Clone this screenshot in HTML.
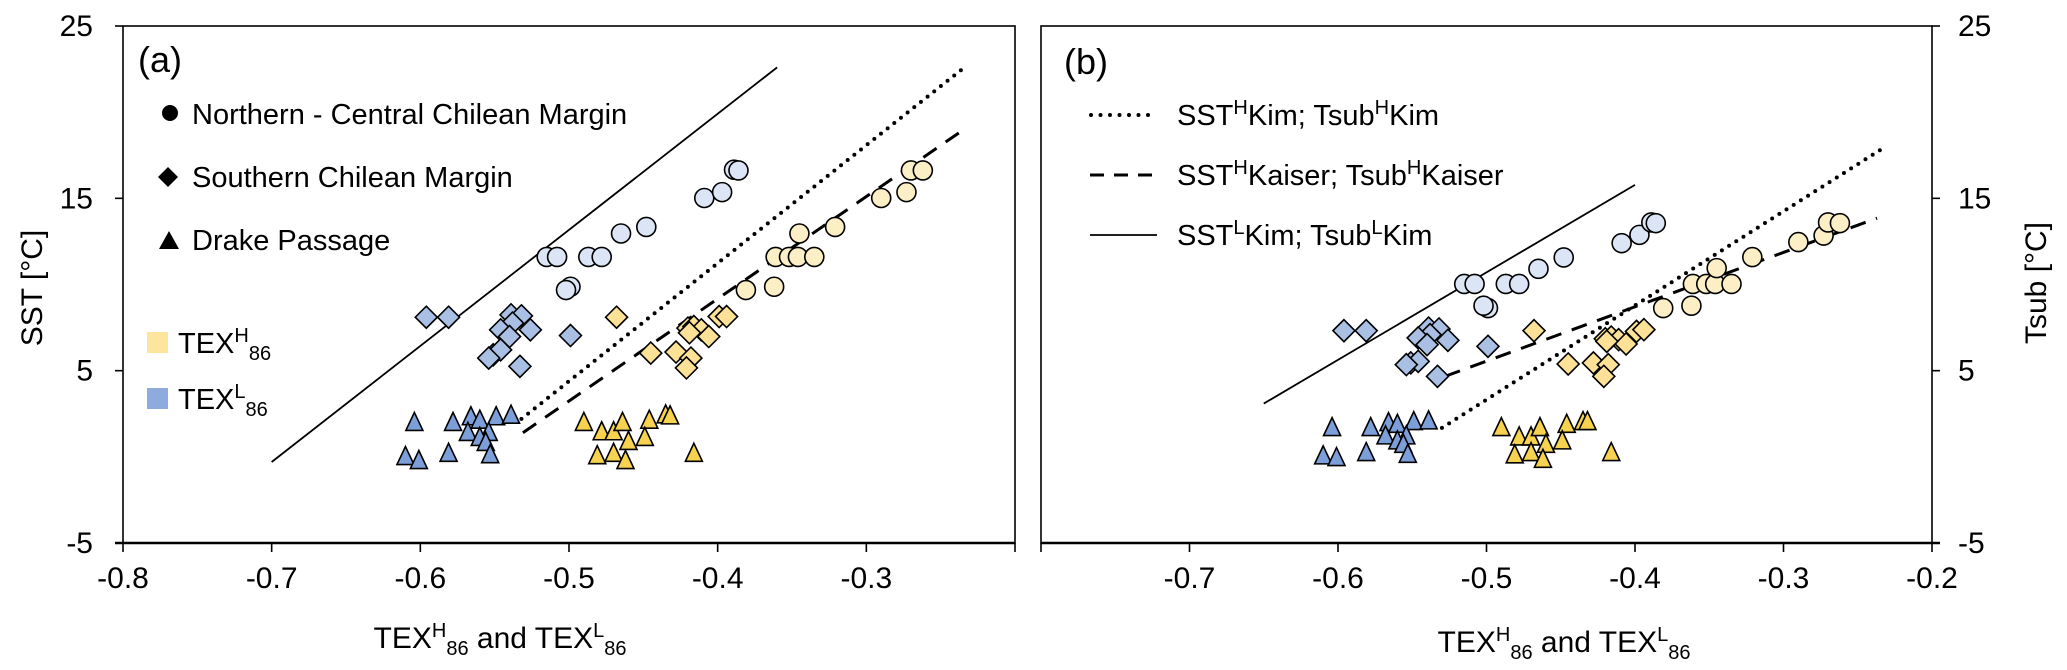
<!DOCTYPE html>
<html><head><meta charset="utf-8"><style>
html,body{margin:0;padding:0;background:#fff;}
svg{display:block;font-family:"Liberation Sans",Arial,sans-serif;}
</style></head><body>
<svg id="chart" width="2067" height="670" viewBox="0 0 2067 670" xmlns="http://www.w3.org/2000/svg">
<g id="layer"></g>
</svg>
<script>
// ---- data ----
const xTicksA = [-0.8,-0.7,-0.6,-0.5,-0.4,-0.3];
const xTicksB = [-0.7,-0.6,-0.5,-0.4,-0.3,-0.2];
const yTicks = [25,15,5,-5];

const circBlueX = [-0.515,-0.508,-0.487,-0.478,-0.465,-0.448,-0.499,-0.502,-0.409,-0.397,-0.389,-0.386];
const circBlueSST = [11.6,11.6,11.6,11.6,12.96,13.34,9.87,9.68,15.02,15.36,16.66,16.62];
const circBlueTsub = [10.03,10.03,10.03,10.03,10.91,11.57,8.63,8.77,12.4,12.88,13.6,13.56];

const circYelX = [-0.381,-0.362,-0.361,-0.352,-0.346,-0.335,-0.345,-0.321,-0.290,-0.273,-0.270,-0.262];
const circYelSST = [9.68,9.87,11.6,11.6,11.6,11.6,12.96,13.34,15.02,15.36,16.62,16.62];
const circYelTsub = [8.63,8.77,10.03,10.03,10.03,10.03,10.95,11.59,12.46,12.84,13.6,13.56];

const diaBlueX = [-0.596,-0.581,-0.539,-0.532,-0.538,-0.546,-0.526,-0.540,-0.551,-0.546,-0.554,-0.533,-0.499];
const diaBlueSST = [8.1,8.1,8.24,8.18,7.76,7.37,7.37,6.98,5.92,6.21,5.73,5.25,7.04];
const diaBlueTsub = [7.32,7.32,7.47,7.42,7.09,6.9,6.76,6.51,5.45,5.54,5.35,4.67,6.41];

const diaYelX = [-0.468,-0.445,-0.428,-0.418,-0.421,-0.420,-0.416,-0.411,-0.406,-0.399,-0.394,-0.419];
const diaYelSST = [8.1,6.02,6.08,5.73,5.16,7.47,7.56,7.37,6.98,8.14,8.14,7.2];
const diaYelTsub = [7.32,5.39,5.45,5.35,4.67,6.85,6.95,6.8,6.55,7.28,7.38,6.7];

const triBlueX = [-0.604,-0.578,-0.566,-0.560,-0.549,-0.539,-0.568,-0.554,-0.560,-0.556,-0.610,-0.601,-0.581,-0.553];
const triBlueSST = [1.88,1.88,2.21,2.01,2.21,2.30,1.3,1.3,1.01,0.72,-0.1,-0.33,0.09,0.01];
const triBlueTsub = [1.58,1.58,1.87,1.77,1.93,1.97,1.10,1.10,0.81,0.61,-0.06,-0.16,0.13,0.03];

const triYelX = [-0.490,-0.478,-0.470,-0.464,-0.446,-0.435,-0.432,-0.460,-0.449,-0.481,-0.470,-0.462,-0.416];
const triYelSST = [1.88,1.34,1.34,1.88,2.01,2.32,2.26,0.78,1.01,-0.05,0.09,-0.33,0.09];
const triYelTsub = [1.58,1.04,1.04,1.58,1.77,1.93,1.93,0.61,0.81,0.0,0.13,-0.26,0.13];

const lineSolidAX = [-0.7,-0.36];   const lineSolidAY = [-0.3,22.6];
const lineDotAX = [-0.532,-0.234];  const lineDotAY = [2.2,22.6];
const lineDashAX = [-0.531,-0.236]; const lineDashAY = [1.4,18.9];
const lineSolidBX = [-0.65,-0.40];  const lineSolidBY = [3.09,15.78];
const lineDotBX = [-0.530,-0.235];  const lineDotBY = [1.68,17.8];
const lineDashBX = [-0.528,-0.237]; const lineDashBY = [4.67,13.85];

// ---- layout ----
const NS = "http://www.w3.org/2000/svg";
const L = document.getElementById('layer');
const PA = {x0:123, x1:1015}, PB = {x0:1041, x1:1932};
const Y0 = 26, Y1 = 543;
function sx(p, v){ return p.x0 + (v + 0.8) / 0.6 * (p.x1 - p.x0); }
function sy(v){ return Y1 - (v + 5) / 30 * (Y1 - Y0); }
function mk(tag, attrs, parent){
  const e = document.createElementNS(NS, tag);
  for (const k in attrs) e.setAttribute(k, attrs[k]);
  (parent || L).appendChild(e);
  return e;
}
const C = {circB:'#dbe5f5', circY:'#fcefc6', diaB:'#a9bfe4', diaY:'#fde196', triB:'#7d9fd9', triY:'#f7d24f'};

function axesFrame(p, side, name){
  const g = mk('g', {});
  
  
  mk('rect', {x:p.x0, y:Y0, width:p.x1-p.x0, height:Y1-Y0, fill:'none', stroke:'#000', 'stroke-width':1.6}, g);
  mk('line', {x1:(side==='left'?p.x0-8:p.x0), y1:Y1, x2:(side==='right'?p.x1+8:p.x1), y2:Y1, stroke:'#000', 'stroke-width':2.6}, g);
  yTicks.forEach(function(t){
    const y = sy(t);
    const xa = side==='left' ? p.x0 : p.x1;
    const xb = side==='left' ? p.x0-8 : p.x1+8;
    mk('line', {x1:xa, y1:y, x2:xb, y2:y, stroke:'#000', 'stroke-width':1.6}, g);
    const tx = mk('text', {x: side==='left'? p.x0-30 : p.x1+26, y:y+10, 'font-size':30, 'text-anchor': side==='left'?'end':'start'}, g);
    tx.textContent = t;
    
    
  });
  const ticks = side==='left' ? xTicksA.concat([-0.2]) : [-0.8].concat(xTicksB);
  ticks.forEach(function(t){
    const x = sx(p, t);
    mk('line', {x1:x, y1:Y1, x2:x, y2:Y1+9, stroke:'#000', 'stroke-width':1.6}, g);
  });
  (side==='left' ? xTicksA : xTicksB).forEach(function(t){
    const tx = mk('text', {x:sx(p,t), y:588, 'font-size':30, 'text-anchor':'middle'}, g);
    tx.textContent = t.toFixed(1);
    
    
  });
}
axesFrame(PA, 'left', 'panel-a');
axesFrame(PB, 'right', 'panel-b');

function drawLine(p, xs, ys, style, name){
  const a = {x1:sx(p,xs[0]), y1:sy(ys[0]), x2:sx(p,xs[1]), y2:sy(ys[1]), stroke:'#000', fill:'none'};
  if (style==='solid'){ a['stroke-width']=1.8; }
  if (style==='dot'){ a['stroke-width']=4; a['stroke-dasharray']='0 8.5'; a['stroke-linecap']='round'; }
  if (style==='dash'){ a['stroke-width']=3; a['stroke-dasharray']='16 11'; }
  const e = mk('line', a);
  
  
}
drawLine(PA, lineSolidAX, lineSolidAY, 'solid', 'sst-l-kim-line');
drawLine(PA, lineDotAX, lineDotAY, 'dot', 'sst-h-kim-line');
drawLine(PA, lineDashAX, lineDashAY, 'dash', 'sst-h-kaiser-line');
drawLine(PB, lineSolidBX, lineSolidBY, 'solid', 'tsub-l-kim-line');
drawLine(PB, lineDotBX, lineDotBY, 'dot', 'tsub-h-kim-line');
drawLine(PB, lineDashBX, lineDashBY, 'dash', 'tsub-h-kaiser-line');

function marker(shape, cx, cy, fill, name){
  let e;
  if (shape==='circ') e = mk('circle', {cx:cx, cy:cy, r:9.5, fill:fill, stroke:'#000', 'stroke-width':1.6});
  if (shape==='dia') e = mk('polygon', {points:[cx,cy-11, cx+11,cy, cx,cy+11, cx-11,cy].join(' '), fill:fill, stroke:'#000', 'stroke-width':1.6});
  if (shape==='tri') e = mk('polygon', {points:[cx,cy-12, cx+8.5,cy+6, cx-8.5,cy+6].join(' '), fill:fill, stroke:'#000', 'stroke-width':1.6});
  
  
}
function series(p, shape, xs, ys, fill, name){
  for (let i=0;i<xs.length;i++) marker(shape, sx(p,xs[i]), sy(ys[i]), fill, name);
}
// Panel a
series(PA,'tri',triBlueX,triBlueSST,C.triB,'drake-texl-point');
series(PA,'tri',triYelX,triYelSST,C.triY,'drake-texh-point');
series(PA,'dia',diaBlueX,diaBlueSST,C.diaB,'south-texl-point');
series(PA,'dia',diaYelX,diaYelSST,C.diaY,'south-texh-point');
series(PA,'circ',circBlueX,circBlueSST,C.circB,'north-texl-point');
series(PA,'circ',circYelX,circYelSST,C.circY,'north-texh-point');
// Panel b
series(PB,'tri',triBlueX,triBlueTsub,C.triB,'drake-texl-tsub-point');
series(PB,'tri',triYelX,triYelTsub,C.triY,'drake-texh-tsub-point');
series(PB,'dia',diaBlueX,diaBlueTsub,C.diaB,'south-texl-tsub-point');
series(PB,'dia',diaYelX,diaYelTsub,C.diaY,'south-texh-tsub-point');
series(PB,'circ',circBlueX,circBlueTsub,C.circB,'north-texl-tsub-point');
series(PB,'circ',circYelX,circYelTsub,C.circY,'north-texh-tsub-point');
</script>
<svg width="2067" height="670" viewBox="0 0 2067 670" xmlns="http://www.w3.org/2000/svg" style="position:absolute;left:0;top:0;font-family:'Liberation Sans',Arial,sans-serif">
  <text x="138" y="72" font-size="36">(a)</text>
  <text x="1064" y="74" font-size="36">(b)</text>
  <g>
    <circle cx="170" cy="113" r="8" fill="#000"/>
    <text x="192" y="124" font-size="29">Northern - Central Chilean Margin</text>
    <polygon points="168,167 178,177 168,187 158,177" fill="#000"/>
    <text x="192" y="187" font-size="29">Southern Chilean Margin</text>
    <polygon points="169,231 179,249 159,249" fill="#000"/>
    <text x="192" y="250" font-size="29">Drake Passage</text>
  </g>
  <g>
    <rect x="147" y="332" width="21" height="21" fill="#fde59e"/>
    <text x="178" y="353" font-size="29">TEX<tspan dy="-11" font-size="20">H</tspan><tspan dy="18" font-size="20">86</tspan></text>
    <rect x="147" y="388" width="21" height="21" fill="#8eabdd"/>
    <text x="178" y="409" font-size="29">TEX<tspan dy="-11" font-size="20">L</tspan><tspan dy="18" font-size="20">86</tspan></text>
  </g>
  <g>
    <line x1="1091" y1="115" x2="1157" y2="115" stroke="#000" stroke-width="4" stroke-dasharray="0 9.5" stroke-linecap="round"/>
    <text x="1177" y="125" font-size="29">SST<tspan dy="-11" font-size="20">H</tspan><tspan dy="11">Kim; Tsub</tspan><tspan dy="-11" font-size="20">H</tspan><tspan dy="11">Kim</tspan></text>
    <line x1="1090" y1="175" x2="1157" y2="175" stroke="#000" stroke-width="3" stroke-dasharray="14 10"/>
    <text x="1177" y="185" font-size="29">SST<tspan dy="-11" font-size="20">H</tspan><tspan dy="11">Kaiser; Tsub</tspan><tspan dy="-11" font-size="20">H</tspan><tspan dy="11">Kaiser</tspan></text>
    <line x1="1090" y1="235" x2="1157" y2="235" stroke="#000" stroke-width="1.8"/>
    <text x="1177" y="245" font-size="29">SST<tspan dy="-11" font-size="20">L</tspan><tspan dy="11">Kim; Tsub</tspan><tspan dy="-11" font-size="20">L</tspan><tspan dy="11">Kim</tspan></text>
  </g>
  <text transform="translate(42,288) rotate(-90)" font-size="30" text-anchor="middle">SST [°C]</text>
  <text transform="translate(2046,283) rotate(-90)" font-size="30" text-anchor="middle">Tsub [°C]</text>
  <text x="500" y="648" font-size="30" text-anchor="middle">TEX<tspan dy="-11" font-size="20">H</tspan><tspan dy="18" font-size="20">86</tspan><tspan dy="-7"> and TEX</tspan><tspan dy="-11" font-size="20">L</tspan><tspan dy="18" font-size="20">86</tspan></text>
  <text x="1564" y="652" font-size="30" text-anchor="middle">TEX<tspan dy="-11" font-size="20">H</tspan><tspan dy="18" font-size="20">86</tspan><tspan dy="-7"> and TEX</tspan><tspan dy="-11" font-size="20">L</tspan><tspan dy="18" font-size="20">86</tspan></text>
</svg>
</body></html>
